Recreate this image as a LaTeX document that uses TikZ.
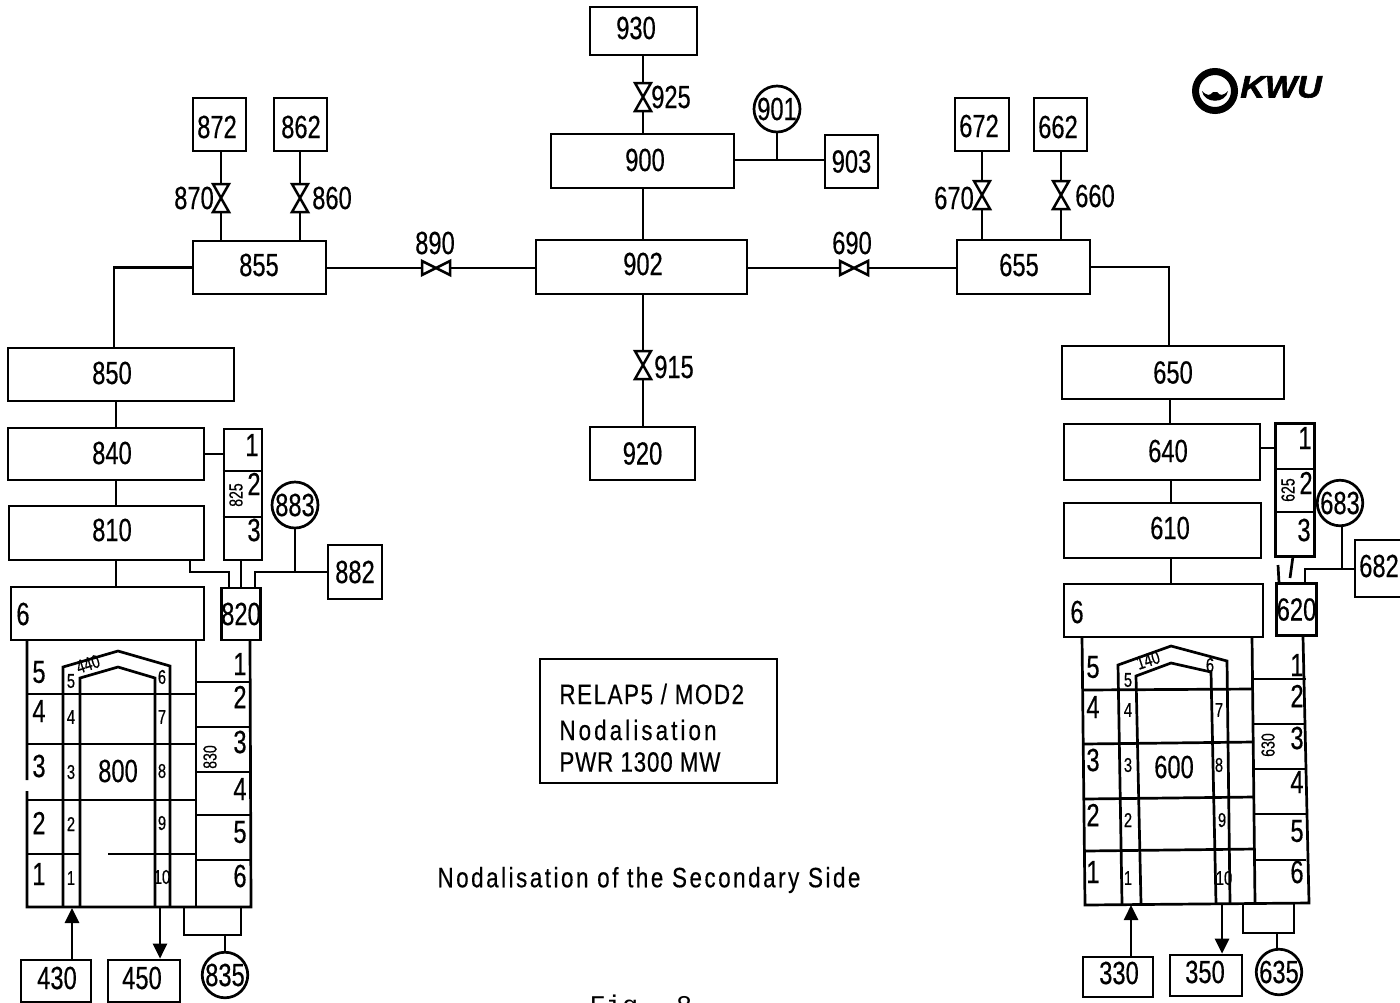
\documentclass[tikz,border=0pt]{standalone}
\usepackage{fontspec}
\setmainfont[FakeStretch=0.74,FakeBold=0.4]{Liberation Sans}
\newfontfamily\capfont[FakeStretch=0.8,LetterSpace=9,FakeBold=0.4]{Liberation Sans}
\newfontfamily\logofont[FakeStretch=1.1,FakeBold=2]{Liberation Sans}
\newfontfamily\figfont{Liberation Mono}
\usetikzlibrary{arrows.meta}

\tikzset{
  pipe/.style={line width=1.35pt},
  pbox/.style n args={2}{draw, line width=1.35pt, inner sep=0pt, minimum width=#1*0.5pt, minimum height=#2*0.5pt, font=\fontsize{16}{16}\selectfont},
  pcirc/.style={draw, circle, line width=1.35pt, inner sep=0pt, minimum size=#1*0.5pt, fill=white, font=\fontsize{16}{16}\selectfont},
  flow/.style={pipe, -{Triangle[length=7.5pt,width=7pt]}},
  lab/.style={inner sep=0pt, font=\fontsize{16}{16}\selectfont},
  tubelab/.style={inner sep=0pt, font=\fontsize{10}{10}\selectfont},
  tinylab/.style={inner sep=0pt, font=\fontsize{9.5}{10}\selectfont},
  capt/.style={anchor=west, inner sep=0pt, font=\capfont\fontsize{14}{14}\selectfont},
  vvalve/.pic={\draw[line width=1.25pt, fill=white] (-8,-14) -- (8,-14) -- (-8,14) -- (8,14) -- cycle;},
  hvalve/.pic={\draw[line width=1.25pt, fill=white] (-14,-7) -- (-14,7) -- (14,-7) -- (14,7) -- cycle;}
}

\begin{document}
\begin{tikzpicture}[x=0.5pt, y=-0.5pt]
  \useasboundingbox (0,0) rectangle (1400,1002);

  % centre part
  \node[pbox={107}{48}] (n930) at (643.5,31) {};
  \node[lab] (t930) at (636,28) {930};
  \node[pbox={183}{54}] (n900) at (642.5,161) {};
  \node[lab] (t900) at (645,160) {900};
  \node[pbox={53}{53}] (n903) at (851.5,161.5) {903};
  \node[pcirc=46] (n901) at (777,109) {901};
  \node[pbox={211}{54}] (n902) at (641.5,267) {};
  \node[lab] (t902) at (643,264) {902};
  \node[pbox={105}{53}] (n920) at (642.5,453.5) {920};
  \coordinate (v925) at (643,97);
  \coordinate (v915) at (643,365);
  \coordinate (j903) at (777,160);
  \node[lab] (t925) at (671,97) {925};
  \node[lab] (t915) at (674,367) {915};
  \draw[pipe] (n930.south -| v925) -- (v925) -- (n900.north -| v925);
  \draw[pipe] (n900.south -| v925) -- (n902.north -| v925);
  \draw[pipe] (n902.south -| v915) -- (v915) -- (n920.north -| v915);
  \draw[pipe] (n900.east |- j903) -- (n903.west |- j903);
  \draw[pipe] (n901) -- (j903);
  \pic at (v925) {vvalve};
  \pic at (v915) {vvalve};

  % upper left
  \node[pbox={53}{53}] (n872) at (219.5,124.5) {};
  \node[lab] (t872) at (217,127) {872};
  \node[pbox={53}{53}] (n862) at (300.5,124.5) {};
  \node[lab] (t862) at (301,127) {862};
  \node[pbox={133}{53}] (n855) at (259.5,267.5) {};
  \node[lab] (t855) at (259,265) {855};
  \node[pbox={226}{53}] (n850) at (121,374.5) {};
  \node[lab] (t850) at (112,373) {850};
  \coordinate (v870) at (221,198);
  \coordinate (v860) at (300,198);
  \coordinate (v890) at (436,268);
  \node[lab] (t870) at (194,198) {870};
  \node[lab] (t860) at (332,198) {860};
  \node[lab] (t890) at (435,243) {890};
  \draw[pipe] (v870 |- n872.south) -- (v870) -- (v870 |- n855.north);
  \draw[pipe] (v860 |- n862.south) -- (v860) -- (v860 |- n855.north);
  \draw[pipe] (n855.east |- v890) -- (v890) -- (n902.west |- v890);
  \draw[pipe] (n855.west) -| (114,348);
  \pic at (v870) {vvalve};
  \pic at (v860) {vvalve};
  \pic at (v890) {hvalve};

  % upper right
  \node[pbox={54}{53}] (n672) at (982,124.5) {};
  \node[lab] (t672) at (979,126) {672};
  \node[pbox={53}{53}] (n662) at (1060.5,124.5) {};
  \node[lab] (t662) at (1058,127) {662};
  \node[pbox={133}{54}] (n655) at (1023.5,267) {};
  \node[lab] (t655) at (1019,265) {655};
  \node[pbox={222}{53}] (n650) at (1173,372.5) {650};
  \coordinate (v670) at (982,195);
  \coordinate (v660) at (1061,195);
  \coordinate (v690) at (854,268);
  \node[lab] (t670) at (954,198) {670};
  \node[lab] (t660) at (1095,196) {660};
  \node[lab] (t690) at (852,243) {690};
  \draw[pipe] (v670 |- n672.south) -- (v670) -- (v670 |- n655.north);
  \draw[pipe] (v660 |- n662.south) -- (v660) -- (v660 |- n655.north);
  \draw[pipe] (n902.east |- v690) -- (v690) -- (n655.west |- v690);
  \draw[pipe] (n655.east) -| (1169,346);
  \pic at (v670) {vvalve};
  \pic at (v660) {vvalve};
  \pic at (v690) {hvalve};

  % left generator, top
  \node[pbox={196}{52}] (n840) at (106,454) {};
  \node[lab] (t840) at (112,453) {840};
  \node[pbox={195}{54}] (n810) at (106.5,533) {};
  \node[lab] (t810) at (112,530) {810};
  \node[pbox={193}{53}] (d806) at (107.5,613.5) {};
  \node[pbox={38}{131}] (n825) at (243,494.5) {};
  \node[pbox={38}{52}] (n820) at (241,614) {820};
  \node[pcirc=46] (n883) at (295,505) {883};
  \node[pbox={54}{54}] (n882) at (355,572) {882};
  \draw[pipe] (n825.west |- 0,471) -- (n825.east |- 0,471) (n825.west |- 0,517) -- (n825.east |- 0,517);
  \draw[pipe] (116,401) -- (116,428) (116,480) -- (116,506) (116,560) -- (116,587);
  \draw[pipe] (n840.east) -- (n825.west |- n840);
  \draw[pipe] (190,560) |- (229,572) -- (229,588);
  \draw[pipe] (241,560) -- (241,588);
  \draw[pipe] (n882.west) -- (255,572) -- (255,588);
  \draw[pipe] (n883) -- (295,572);
  \node[lab] (c8251) at (252,445) {1};
  \node[lab] (c8252) at (254,484) {2};
  \node[lab] (c8253) at (254,530) {3};
  \node[tinylab, rotate=90] (t825) at (236,495) {825};
  \node[lab] (d806t) at (23,614) {6};

  % left generator, body
  \draw[pipe] (27,780) -- (27,640) (27,791) -- (27,907) -- (251,907) -- (250,640);
  \draw[pipe] (196,640) -- (196,907);
  \foreach \y in {694,744,800} \draw[pipe] (27,\y) -- (196,\y);
  \draw[pipe] (27,854) -- (80,854) (108,854) -- (196,854);
  \foreach \y in {682,727,772,815,860} \draw[pipe] (196,\y) -- (250,\y);
  \draw[pipe] (63,907) -- (63,667) -- (118,651) -- (170,666) -- (170,907);
  \draw[pipe] (80,907) -- (80,678) -- (118,667) -- (155,678) -- (155,907);
  \foreach \y/\t in {672/5,711/4,766/3,823/2,874/1} \node[lab] (s8\t) at (39,\y) {\t};
  \foreach \y/\t in {681/5,717/4,772/3,824/2,878/1} \node[tubelab] (a8\t) at (71,\y) {\t};
  \foreach \y/\t in {677/6,717/7,771/8,823/9,877/10} \node[tubelab] (b8\t) at (162,\y) {\t};
  \foreach \y/\t in {664/1,697/2,742/3,789/4,832/5,876/6} \node[lab] (g8\t) at (240,\y) {\t};
  \node[lab] (n800) at (118,771) {800};
  \node[tinylab, rotate=90] (t830) at (210,757) {830};
  \node[tinylab, rotate=18] (t440) at (88,664) {440};

  % left generator, bottom
  \node[pbox={70}{42}] (n430) at (56,981) {};
  \node[lab] (t430) at (57,978) {430};
  \node[pbox={72}{42}] (n450) at (144,981) {};
  \node[lab] (t450) at (142,978) {450};
  \node[pcirc=44] (n835) at (225,975) {835};
  \coordinate (in8) at (72,908);
  \coordinate (out8) at (160,908);
  \coordinate (j835) at (225,935);
  \draw[flow] (in8 |- n430.north) -- (in8);
  \draw[flow] (out8) -- (out8 |- n450.north);
  \draw[pipe] (184,907) |- (j835) -| (241,907);
  \draw[pipe] (j835) -- (n835);

  % right generator, top
  \node[pbox={196}{56}] (n640) at (1162,452) {};
  \node[lab] (t640) at (1168,451) {640};
  \node[pbox={197}{55}] (n610) at (1162.5,530.5) {};
  \node[lab] (t610) at (1170,528) {610};
  \node[pbox={199}{53}] (d606) at (1163.5,610.5) {};
  \node[pbox={39}{133}] (n625) at (1295,490) {};
  \node[pbox={39}{52}] (n620) at (1296.5,609.5) {620};
  \node[pcirc=44] (n683) at (1340,503) {683};
  \node[pbox={50}{57}] (n682) at (1380,568.5) {};
  \node[lab] (t682) at (1379,566) {682};
  \coordinate (j682) at (1342,569);
  \draw[pipe] (n625.west |- 0,469) -- (n625.east |- 0,469) (n625.west |- 0,512) -- (n625.east |- 0,512);
  \draw[pipe] (1170,399) -- (1170,424) (1171,480) -- (1171,503) (1171,558) -- (1171,584);
  \draw[pipe] (n640.east |- 0,448) -- (n625.west |- 0,448);
  \draw[pipe] (1278,565) -- (1279,583);
  \draw[pipe] (1293,556) -- (1290,578);
  \draw[pipe] (n682.west |- j682) -- (1305,569) -- (1305,583);
  \draw[pipe] (j682 |- n683.south) -- (j682);
  \node[lab] (c6251) at (1305,438) {1};
  \node[lab] (c6252) at (1306,483) {2};
  \node[lab] (c6253) at (1304,530) {3};
  \node[tinylab, rotate=90] (t625) at (1288,490) {625};
  \node[lab] (d606t) at (1077,612) {6};

  % right generator, body
  \draw[pipe] (1082,637) -- (1085,905) -- (1309,903) -- (1303,637);
  \draw[pipe] (1252,637) -- (1255,904);
  \draw[pipe] (1083,690) -- (1253,689) (1083,744) -- (1253,742) (1084,799) -- (1254,797) (1085,851) -- (1255,849);
  \foreach \y in {679,724,769,814,860} \draw[pipe] (1253,\y) -- (1306,\y);
  \draw[pipe] (1122,904) -- (1118,665) -- (1171,646) -- (1227,661) -- (1230,904);
  \draw[pipe] (1141,904) -- (1136,676) -- (1171,663) -- (1211,672) -- (1216,904);
  \foreach \y/\t in {667/5,707/4,760/3,815/2,872/1} \node[lab] (s6\t) at (1093,\y) {\t};
  \foreach \y/\t in {680/5,710/4,765/3,820/2,878/1} \node[tubelab] (a6\t) at (1128,\y) {\t};
  \node[tubelab] (b66) at (1210,665) {6};
  \foreach \x/\y/\t in {1219/710/7,1219/765/8,1222/820/9,1224/878/10} \node[tubelab] (b6\t) at (\x,\y) {\t};
  \foreach \y/\t in {665/1,696/2,738/3,782/4,831/5,872/6} \node[lab] (g6\t) at (1297,\y) {\t};
  \node[lab] (n600) at (1174,767) {600};
  \node[tinylab, rotate=90] (t630) at (1268,745) {630};
  \node[tinylab, rotate=18] (t140) at (1148,660) {140};

  % right generator, bottom
  \node[pbox={70}{40}] (n330) at (1118,977) {};
  \node[lab] (t330) at (1119,973) {330};
  \node[pbox={72}{41}] (n350) at (1206,975.5) {};
  \node[lab] (t350) at (1205,972) {350};
  \node[pcirc=44] (n635) at (1279,972) {635};
  \coordinate (in6) at (1131,905);
  \coordinate (out6) at (1222,905);
  \coordinate (j635) at (1277,933);
  \draw[flow] (in6 |- n330.north) -- (in6);
  \draw[flow] (out6) -- (out6 |- n350.north);
  \draw[pipe] (1243,904) |- (j635) -| (1294,903);
  \draw[pipe] (j635) -- (j635 |- n635.north);

  % legend and captions
  \node[draw, line width=1.25pt, minimum width=118.5pt, minimum height=62pt] (legend) at (658.5,721) {};
  \node[capt] (leg1) at (559,694) {\addfontfeature{LetterSpace=5.5}RELAP5 / MOD2};
  \node[capt] (leg2) at (559,730) {\addfontfeature{LetterSpace=11}Nodalisation};
  \node[capt] (leg3) at (559,762) {\addfontfeature{LetterSpace=3}PWR 1300 MW};
  \node[capt, anchor=center] (caption) at (649,880) {Nodalisation of the Secondary Side};
  \node[anchor=north, inner sep=0pt, font=\figfont\fontsize{13.5}{14}\selectfont] (figno) at (641,995) {Fig. 8};

  % logo
  \node[draw, circle, line width=3.5pt, minimum size=19.5pt, inner sep=0pt] (logo) at (1215,91) {};
  \fill (1202,91) .. controls (1207,96) and (1210,96) .. (1213,92) -- (1217,92) .. controls (1220,96) and (1223,96) .. (1228,91) .. controls (1226,104) and (1204,104) .. (1202,91) -- cycle;
  \node[inner sep=0pt, font=\logofont\bfseries\itshape\fontsize{15.5}{15.5}\selectfont] (kwu) at (1281,87) {KWU};
\end{tikzpicture}
\end{document}
